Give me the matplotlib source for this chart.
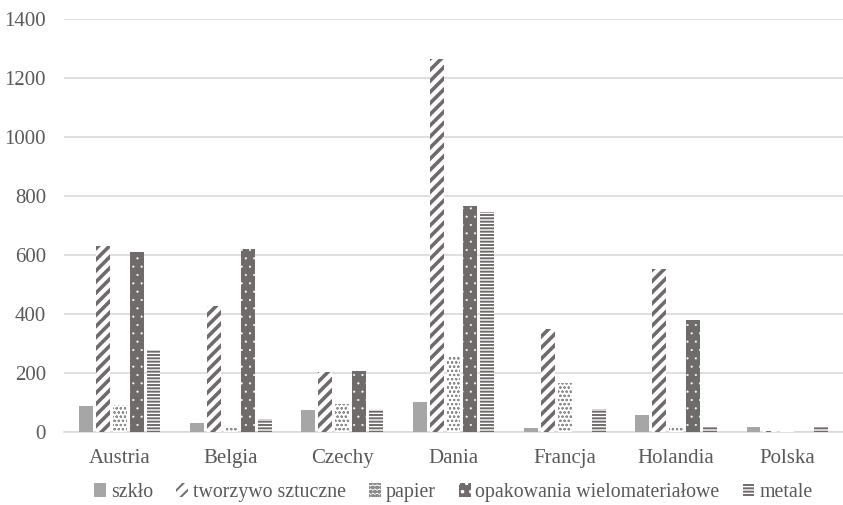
import matplotlib.pyplot as plt
import numpy as np

plt.rcParams['font.family'] = 'serif'
plt.rcParams['font.serif'] = ['Liberation Serif', 'Times New Roman', 'DejaVu Serif']

kraje = ['Austria', 'Belgia', 'Czechy', 'Dania', 'Francja', 'Holandia', 'Polska']
szklo = [88, 32, 75, 102, 14, 57, 18]
tworzywo = [630, 427, 205, 1265, 348, 553, 4]
papier = [90, 20, 95, 253, 165, 22, 2]
opakowania = [610, 620, 208, 765, 0, 380, 0]
metale = [277, 45, 75, 745, 78, 17, 16]

# nazwa, dane, styl slupka, grubosc kreskowania
serie = [
    ('szkło', szklo, dict(facecolor='#a6a6a6', edgecolor='#a6a6a6', hatch=None), 1.0),
    ('tworzywo sztuczne', tworzywo, dict(facecolor='white', edgecolor='#6f6b6a', hatch='///'), 2.6),
    ('papier', papier, dict(facecolor='white', edgecolor='#8c8c8c', hatch='oooo'), 0.5),
    ('opakowania wielomateriałowe', opakowania, dict(facecolor='#6f6b6a', edgecolor='white', hatch='..'), 0.3),
    ('metale', metale, dict(facecolor='white', edgecolor='#6f6b6a', hatch='-----'), 1.4),
]

fig = plt.figure(figsize=(8.43, 5.05), dpi=100)
ax = fig.add_axes([64 / 843, (505 - 432) / 505, (843 - 64) / 843, 413 / 505])

x = np.arange(len(kraje))
pitch = 0.152
width = 0.125
for i, (nazwa, wartosci, styl, hlw) in enumerate(serie):
    plt.rcParams['hatch.linewidth'] = hlw
    ax.bar(x + (i - 2) * pitch, wartosci, width, label=nazwa, linewidth=0, zorder=3, **styl)

ax.set_xlim(-0.5, 6.5)
ax.set_ylim(0, 1400)
ax.set_yticks(range(0, 1401, 200))
ax.set_xticks(x)
ax.set_xticklabels(kraje)
ax.yaxis.grid(True, color='#d9d9d9', linewidth=1.2, zorder=0)
ax.tick_params(axis='both', length=0, labelsize=15, colors='#595959')
ax.tick_params(axis='x', pad=12)
ax.tick_params(axis='y', pad=13)
for s in ['top', 'right', 'left']:
    ax.spines[s].set_visible(False)
ax.spines['bottom'].set_color('#d9d9d9')
ax.spines['bottom'].set_linewidth(1.2)

ax.legend(loc='center', bbox_to_anchor=(0.5, -0.147), ncol=5, frameon=False,
          fontsize=14.3, handlelength=0.6, handleheight=0.7, handletextpad=0.25,
          columnspacing=1.15, labelcolor='#595959', borderpad=0)

fig.savefig('out.png', dpi=100)
